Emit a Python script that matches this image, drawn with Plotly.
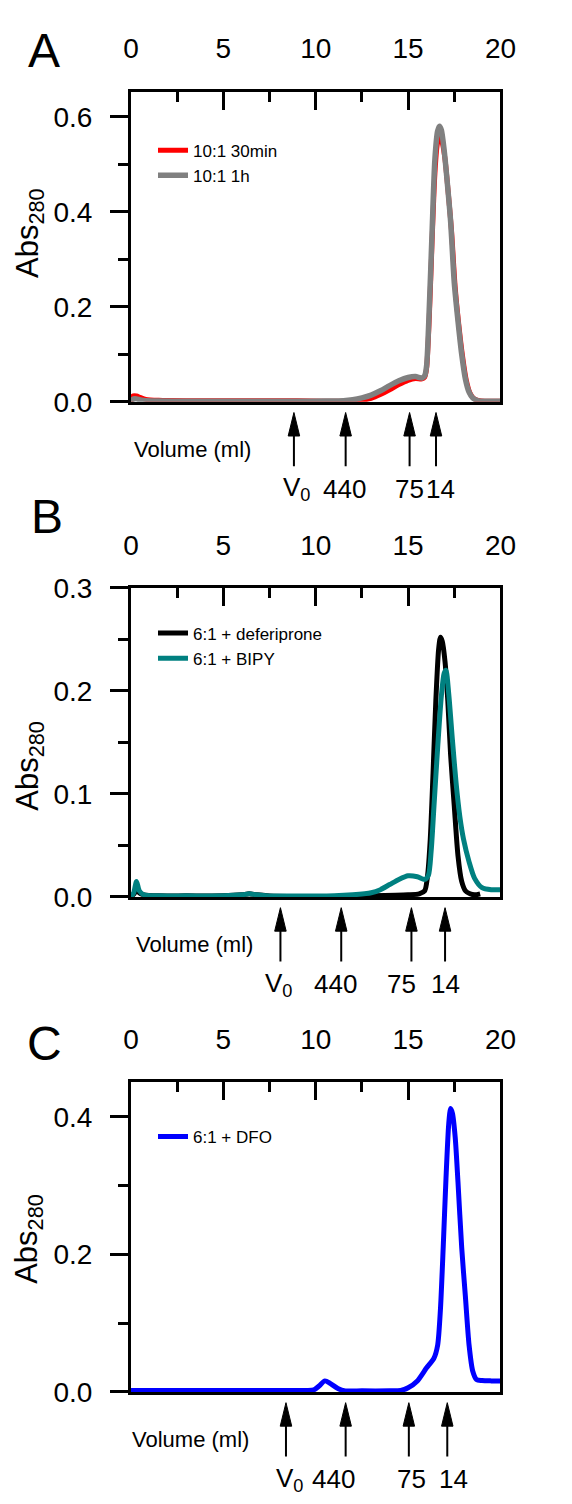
import plotly.graph_objects as go

# ---------------- data ----------------
# Panel A
vol_a_30min = [0, 0.1, 0.3, 0.5, 0.8, 1.5, 3, 5, 7, 9, 10.5, 11.5, 12, 12.5, 13, 13.5, 14, 14.5, 15,
               15.4, 15.75, 15.9, 16.0, 16.15, 16.3, 16.45, 16.6, 16.75, 16.85, 17.0, 17.15, 17.35,
               17.55, 17.75, 17.95, 18.15, 18.35, 18.55, 18.85, 19.2, 20]
abs_a_30min = [0.0, 0.012, 0.012, 0.009, 0.005, 0.003, 0.002, 0.002, 0.002, 0.002, 0.001, 0.001, 0.001,
               0.003, 0.007, 0.015, 0.025, 0.036, 0.045, 0.049, 0.048, 0.052, 0.07, 0.18, 0.34, 0.48,
               0.545, 0.555, 0.545, 0.51, 0.45, 0.36, 0.24, 0.16, 0.095, 0.045, 0.018, 0.007, 0.002,
               0.001, 0.001]
vol_a_1h = [0, 0.15, 0.3, 0.5, 0.8, 1.5, 3, 5, 7, 9, 10.5, 11.5, 12, 12.5, 13, 13.5, 14, 14.5, 15, 15.4,
            15.75, 15.9, 16.0, 16.15, 16.3, 16.45, 16.6, 16.7, 16.8, 16.95, 17.1, 17.3, 17.5, 17.7, 17.9,
            18.1, 18.3, 18.5, 18.8, 19.2, 20]
abs_a_1h = [0.0, 0.006, 0.006, 0.004, 0.002, 0.0015, 0.001, 0.001, 0.001, 0.001, 0.0015, 0.002, 0.004,
            0.008, 0.014, 0.023, 0.034, 0.044, 0.051, 0.053, 0.050, 0.055, 0.075, 0.2, 0.36, 0.51, 0.57,
            0.58, 0.572, 0.53, 0.47, 0.38, 0.25, 0.17, 0.10, 0.048, 0.02, 0.008, 0.002, 0.001, 0.001]

# Panel B
vol_b_def = [0, 0.2, 0.3, 0.45, 0.7, 1.5, 3, 5, 6.0, 6.4, 6.8, 7.5, 9, 11, 13, 15, 15.6, 15.9, 16.05,
             16.2, 16.35, 16.5, 16.65, 16.75, 16.85, 17.0, 17.15, 17.3, 17.5, 17.7, 17.9, 18.1, 18.35,
             18.6, 18.9]
abs_b_def = [0.0, 0.004, 0.008, 0.004, 0.002, 0.001, 0.001, 0.001, 0.002, 0.003, 0.002, 0.001, 0.0005,
             0.0005, 0.001, 0.002, 0.003, 0.006, 0.02, 0.056, 0.12, 0.19, 0.24, 0.252, 0.248, 0.228,
             0.19, 0.138, 0.088, 0.04, 0.015, 0.006, 0.003, 0.002, 0.003]
vol_b_bipy = [0, 0.15, 0.3, 0.45, 0.7, 1.5, 3, 5, 6.0, 6.4, 6.8, 7.5, 9, 11, 12, 13, 13.5, 14, 14.5, 15,
              15.5, 15.9, 16.1, 16.25, 16.4, 16.6, 16.8, 16.95, 17.05, 17.2, 17.4, 17.6, 17.8, 18.0, 18.3,
              18.6, 19.0, 19.5, 20]
abs_b_bipy = [0.0, 0.004, 0.015, 0.006, 0.002, 0.001, 0.001, 0.001, 0.002, 0.003, 0.002, 0.001, 0.0008,
              0.001, 0.002, 0.004, 0.007, 0.012, 0.017, 0.0205, 0.0196, 0.017, 0.021, 0.045, 0.088,
              0.145, 0.195, 0.217, 0.22, 0.197, 0.152, 0.11, 0.078, 0.056, 0.034, 0.018, 0.009, 0.007,
              0.007]

# Panel C
vol_c_dfo = [0, 2, 5, 8, 9.5, 9.9, 10.2, 10.5, 10.8, 11.2, 11.6, 12.5, 14, 14.6, 15.0, 15.5, 16.0, 16.4,
             16.6, 16.75, 16.9, 17.05, 17.2, 17.3, 17.4, 17.55, 17.7, 17.9, 18.1, 18.3, 18.5, 18.7, 19.0,
             19.5, 20]
abs_c_dfo = [0.002, 0.002, 0.002, 0.002, 0.002, 0.003, 0.009, 0.016, 0.012, 0.005, 0.0015, 0.0015, 0.0015,
             0.002, 0.006, 0.016, 0.035, 0.049, 0.068, 0.12, 0.21, 0.31, 0.39, 0.412, 0.405, 0.37, 0.305,
             0.21, 0.139, 0.068, 0.03, 0.018, 0.0166, 0.016, 0.0157]

# size-marker elution volumes (ml) per panel
marker_vol_a = [8.82, 11.62, 15.08, 16.51]
marker_vol_b = [8.09, 11.38, 15.18, 17.0]
marker_vol_c = [8.39, 11.62, 15.04, 17.12]
marker_labels = ["V<sub>0</sub>", "440", "75", "14"]

panel_letters = ["A", "B", "C"]
x_ticks = [0, 5, 10, 15, 20]

# ---------------- layout / styles ----------------
W, H = 572, 1504
FONT = "Liberation Sans, Arial, sans-serif"
PL, PR = 120, 505.7
X_MAX = 20.0
panel_top_px = [70, 576.7, 1081]
panel_bot_px = [386.7, 892.3, 1397.7]
y_top = [0.653, 0.3, 0.451]
y_dtick = [0.2, 0.1, 0.2]
y_minor = [0.1, 0.05, 0.1]
letter_pos = [(29, 28), (32, 504), (30, 1042)]
ylabel_pos = [(14, 214), (15, 758), (14, 1241)]
volume_pos_x = [184, 186.7, 181.7]
legend_top_px = [112, 605, 1119]
label_xshift = [[3, -1, 0, 5], [-2, -6, -10, 0], [4, -13, 3, 6]]


def px(xp):
    return xp / W


def py(yp):
    return 1 - yp / H


def vol_to_paper(v, shift_px=0.0):
    # map an elution volume onto paper x using the same linear x scale as the axes
    return px(PL + (PR - PL) * v / X_MAX + shift_px)


fig = go.Figure()

series = [
    [(vol_a_30min, abs_a_30min, "10:1 30min", "#FF0000", 5),
     (vol_a_1h, abs_a_1h, "10:1 1h", "#808080", 5.5)],
    [(vol_b_def, abs_b_def, "6:1 + deferiprone", "#000000", 5),
     (vol_b_bipy, abs_b_bipy, "6:1 + BIPY", "#008080", 5)],
    [(vol_c_dfo, abs_c_dfo, "6:1 + DFO", "#0000FF", 5)],
]
marker_sets = [marker_vol_a, marker_vol_b, marker_vol_c]

shapes = []
annotations = []
px_per_ml = (PR - PL) / X_MAX
hw = 6.0 / px_per_ml

for i in range(3):
    n = "" if i == 0 else str(i + 1)
    xref = "x" + n
    yref = "y" + n
    leg = "legend" + n
    for (xs, ys, name, col, lw) in series[i]:
        fig.add_trace(go.Scatter(
            x=xs, y=ys, name=name, mode="lines",
            line=dict(color=col, width=lw, shape="spline", smoothing=0.7),
            xaxis=xref, yaxis=yref, legend=leg, showlegend=True))

    top, bot = panel_top_px[i], panel_bot_px[i]
    fig.layout["xaxis" + n] = dict(
        domain=[px(PL), px(PR)], anchor=yref, side="top", range=[0, X_MAX],
        tickvals=x_ticks, ticks="inside", ticklen=18, tickwidth=3, tickcolor="black",
        minor=dict(dtick=2.5, ticks="inside", ticklen=10, tickwidth=3, tickcolor="black"),
        showline=True, linewidth=3, linecolor="black", mirror=True,
        showgrid=False, zeroline=False,
        tickfont=dict(family=FONT, size=28, color="black"), ticklabelstandoff=19)
    fig.layout["yaxis" + n] = dict(
        domain=[py(bot), py(top)], anchor=xref, range=[0, y_top[i]],
        dtick=y_dtick[i], tick0=0, tickformat=".1f",
        ticks="outside", ticklen=18, tickwidth=3, tickcolor="black",
        minor=dict(dtick=y_minor[i], tick0=0, ticks="outside", ticklen=10, tickwidth=3, tickcolor="black"),
        showline=True, linewidth=3, linecolor="black", mirror=True,
        showgrid=False, zeroline=False,
        tickfont=dict(family=FONT, size=28, color="black"), ticklabelstandoff=12)
    fig.layout[leg] = dict(
        x=px(143), y=py(legend_top_px[i]), xanchor="left", yanchor="top",
        bgcolor="rgba(0,0,0,0)", borderwidth=0, itemwidth=30, tracegroupgap=0,
        font=dict(family=FONT, size=17, color="black"))

    # panel letter
    lx, ly = letter_pos[i]
    annotations.append(dict(text=panel_letters[i], x=px(lx), y=py(ly), xref="paper", yref="paper",
                            xanchor="center", yanchor="middle", showarrow=False,
                            font=dict(family=FONT, size=48, color="black")))
    # y label
    ax_, ay_ = ylabel_pos[i]
    annotations.append(dict(text="Abs<sub>280</sub>", x=px(ax_), y=py(ay_), xref="paper", yref="paper",
                            xanchor="center", yanchor="middle", textangle=-90, showarrow=False,
                            font=dict(family=FONT, size=31, color="black")))
    # x label
    annotations.append(dict(text="Volume (ml)", x=px(volume_pos_x[i]), y=py(bot + 49), xref="paper",
                            yref="paper", xanchor="center", yanchor="middle", showarrow=False,
                            font=dict(family=FONT, size=22, color="black")))
    # marker arrows
    for k, v in enumerate(marker_sets[i]):
        shapes.append(dict(type="line", xref=xref, yref="paper", x0=v, x1=v,
                           y0=py(bot + 33), y1=py(bot + 66), line=dict(color="black", width=2)))
        shapes.append(dict(type="path", xref=xref, yref="paper",
                           path=f"M {v - hw},{py(bot + 35)} L {v},{py(bot + 11)} L {v + hw},{py(bot + 35)} Z",
                           fillcolor="black", line=dict(color="black", width=1)))
        annotations.append(dict(text=marker_labels[k], x=vol_to_paper(v, label_xshift[i][k]),
                                y=py(bot + 89), xref="paper", yref="paper",
                                xanchor="center", yanchor="middle", showarrow=False,
                                font=dict(family=FONT, size=26, color="black")))

fig.update_layout(
    width=W, height=H, margin=dict(l=0, r=0, t=0, b=0),
    paper_bgcolor="white", plot_bgcolor="white",
    shapes=shapes, annotations=annotations, showlegend=True,
)

fig.write_html("out.html")
